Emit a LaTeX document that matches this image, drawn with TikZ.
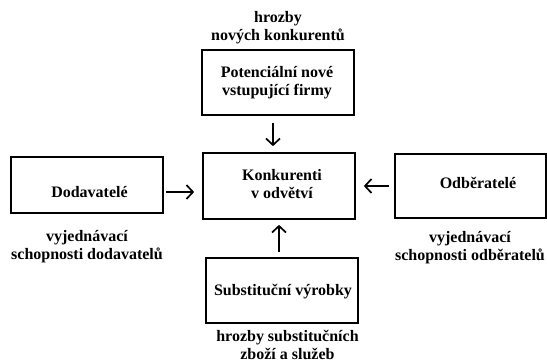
\documentclass[tikz,border=0pt]{standalone}
\usepackage{fontspec}
\setmainfont{Liberation Serif}
\usetikzlibrary{arrows.meta}
\begin{document}
\begin{tikzpicture}[x=1pt,y=-1pt,
  box/.style={draw, line width=1.7pt, inner sep=0pt, minimum width=152pt, minimum height=65pt},
  lbl/.style={font=\bfseries\fontsize{16}{18}\selectfont, align=center, inner sep=0pt},
  arr/.style={line width=1.7pt, -{Straight Barb[length=6.5pt,width=14pt,line width=1.7pt]}}]
\useasboundingbox[fill=white] (0,0) rectangle (547,363);
\node[box, label={[lbl,xshift=-1pt]center:{Potenciální nové\\vstupující firmy}}] (top) at (278,82.5) {};
\node[box, minimum height=66pt, label={[lbl,xshift=3pt,yshift=1.5pt]center:{Konkurenti\\v odvětví}}] (cen) at (279,186) {};
\node[box, minimum height=56pt, label={[lbl,xshift=2.5pt,yshift=-7pt]center:Dodavatelé}] (dod) at (87,185) {};
\node[box, minimum width=151pt, minimum height=64pt, label={[lbl,xshift=7.5pt,yshift=3pt]center:Odběratelé}] (odb) at (470.5,186) {};
\node[box, label={[lbl,xshift=1pt,yshift=-1.5pt]center:Substituční výrobky}] (sub) at (282,290.5) {};
\node[lbl] (tl) at (278,28) {hrozby\\nových konkurentů};
\node[lbl] (ll) at (87,247) {vyjednávací\\schopnosti dodavatelů};
\node[lbl] (rl) at (470,248) {vyjednávací\\schopnosti odběratelů};
\node[lbl] (bl) at (287.5,345) {hrozby substitučních\\zboží a služeb};
\draw[arr] ([xshift=-5pt,yshift=-7pt]top.south) -- ([xshift=-6pt,yshift=6pt]cen.north);
\draw[arr] ([xshift=2pt,yshift=-7pt]dod.east) -- ([xshift=-8pt,yshift=-6pt]cen.west);
\draw[arr] ([xshift=-5pt]odb.west) -- ([xshift=8pt]cen.east);
\draw[arr] ([xshift=-3pt,yshift=5pt]sub.north) -- ([yshift=-5pt]cen.south);
\end{tikzpicture}
\end{document}
